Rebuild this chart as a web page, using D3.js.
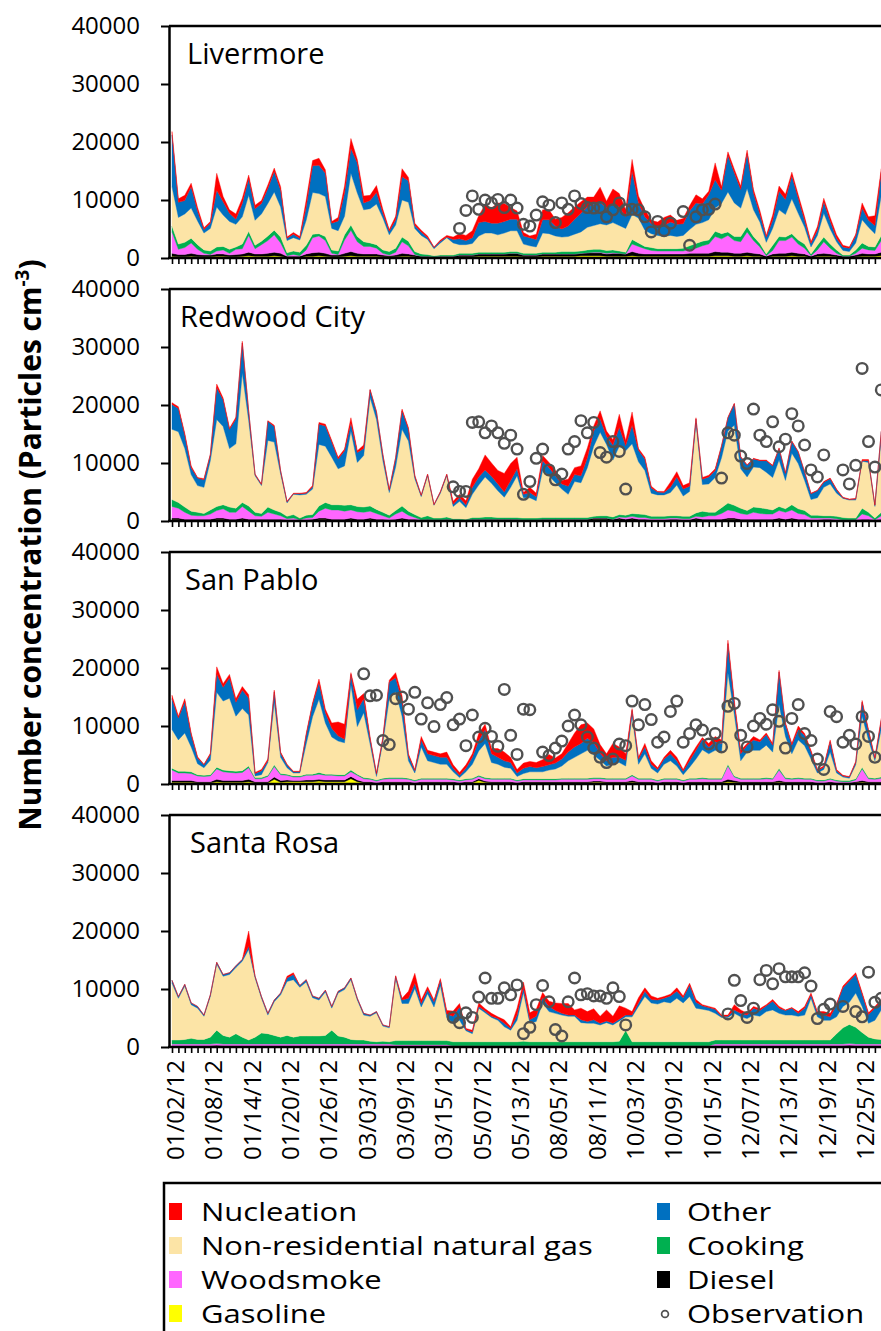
<!DOCTYPE html>
<html>
<head>
<meta charset="utf-8">
<script src="https://cdn.jsdelivr.net/npm/d3@7"></script>
<style>
  body { margin: 0; background: #fff; overflow: hidden; }
  svg { display: block; }
  text { font-family: "Open Sans", "Noto Sans", sans-serif; fill: #000; }
</style>
</head>
<body>
<div id="chart"></div>
<script>
// sampling days (category axis, gaps between campaigns)
var dates = [
  "01/02/12","01/03/12","01/04/12","01/05/12","01/06/12","01/07/12","01/08/12","01/09/12","01/10/12","01/11/12",
  "01/12/12","01/13/12","01/14/12","01/15/12","01/16/12","01/17/12","01/18/12","01/19/12","01/20/12","01/21/12",
  "01/22/12","01/23/12","01/24/12","01/25/12","01/26/12","01/27/12","01/28/12","01/29/12","01/30/12","01/31/12",
  "03/03/12","03/04/12","03/05/12","03/06/12","03/07/12","03/08/12","03/09/12","03/10/12","03/11/12","03/12/12",
  "03/13/12","03/14/12","03/15/12","03/16/12","03/17/12","03/18/12","03/19/12","03/20/12","05/07/12","05/08/12",
  "05/09/12","05/10/12","05/11/12","05/12/12","05/13/12","05/14/12","05/15/12","05/16/12","05/17/12","05/18/12",
  "08/05/12","08/06/12","08/07/12","08/08/12","08/09/12","08/10/12","08/11/12","08/12/12","08/13/12","08/14/12",
  "08/15/12","08/16/12","10/03/12","10/04/12","10/05/12","10/06/12","10/07/12","10/08/12","10/09/12","10/10/12",
  "10/11/12","10/12/12","10/13/12","10/14/12","10/15/12","10/16/12","10/17/12","10/18/12","10/19/12","10/20/12",
  "12/07/12","12/08/12","12/09/12","12/10/12","12/11/12","12/12/12","12/13/12","12/14/12","12/15/12","12/16/12",
  "12/17/12","12/18/12","12/19/12","12/20/12","12/21/12","12/22/12","12/23/12","12/24/12","12/25/12","12/26/12",
  "12/27/12","12/28/12"
];
var labelEvery = 6;
var yTicks = [0, 10000, 20000, 30000, 40000];

// ---------------- Livermore ----------------
var livNucleation = [
  600,600,900,600,600,300,300,2900,900,600,
  900,900,600,600,500,600,600,600,200,300,
  300,1200,900,1200,600,300,600,1200,1700,600,
  1200,900,1200,600,300,600,1400,600,400,300,
  300,100,200,300,400,900,900,1200,1200,2900,
  2600,3500,3100,2000,1400,600,300,900,1700,1700,
  1200,2000,2300,2100,2000,1700,1200,2600,1200,2600,
  2300,1200,2000,1200,1200,600,900,1400,1200,700,
  900,900,1400,900,600,2900,600,600,600,600,
  600,600,600,300,900,900,900,600,600,600,
  300,600,600,600,600,300,200,300,900,600,
  1700,600
];
var livOther = [
  8900,2600,2300,3700,1700,600,900,2900,2300,1400,
  900,2300,2900,2000,1800,2600,3500,2900,400,600,
  300,2300,4600,4900,4000,900,1700,4000,4300,5200,
  1200,1400,2000,900,600,900,4000,3700,500,600,
  300,200,300,100,600,1000,700,1000,2300,2000,
  1700,2000,2000,2000,2000,1400,1400,1300,2300,2400,
  1700,1400,1800,2600,3200,3500,3700,3700,2900,3200,
  3200,2000,7500,2600,2300,1700,1400,1900,2300,2100,
  2000,3200,3700,3200,4300,4900,2300,6300,5200,3200,
  6000,2900,1400,900,1400,3200,2600,4000,2600,1200,
  600,900,2000,1400,600,600,600,1200,2000,1200,
  1400,4000
];
var livNatGas = [
  6800,4600,4900,5200,4100,2900,3900,6900,5400,4800,
  3900,4700,6200,4300,4700,5600,6600,5200,2100,2300,
  2100,4300,7200,6900,6900,3700,3500,3200,8900,7500,
  5500,5900,7000,5500,2900,4000,6400,6700,4000,3200,
  2600,1200,2100,3000,2100,1500,1500,1700,2800,3300,
  3300,3000,3300,3600,3600,1600,1300,1100,3300,3200,
  2800,2500,2600,3000,3300,3900,4100,4400,4400,4700,
  4400,4100,4300,4300,2800,2400,2300,2100,2300,2100,
  2200,2800,3300,3200,3500,4000,5200,6900,5800,4900,
  6600,4600,3700,2000,2900,4600,3900,6000,4600,2900,
  1200,1700,4100,2600,1400,800,600,1200,4000,3300,
  2300,6900
];
var livCooking = [
  1000,900,900,800,800,600,600,700,600,700,
  400,800,700,600,600,800,800,1000,500,600,
  600,800,600,400,700,600,600,900,900,900,
  800,600,600,600,600,700,800,800,500,400,
  300,200,200,200,200,300,300,300,300,300,
  300,300,300,300,300,300,300,300,300,300,
  300,400,400,400,400,500,500,500,500,500,
  400,300,800,600,400,500,400,400,400,400,
  500,600,800,800,700,900,900,600,700,900,
  900,700,600,300,900,700,600,600,700,700,
  300,800,800,700,600,200,200,600,900,600,
  600,900
];
var livWoodsmoke = [
  3700,900,1200,1800,900,300,100,500,700,300,
  900,900,2900,900,1600,2200,3000,1800,100,300,
  100,700,2600,2800,2200,300,100,2300,3700,2000,
  1300,1300,1000,300,100,500,2000,1400,100,0,
  0,0,0,0,0,0,0,0,0,0,
  0,0,0,0,0,0,0,0,0,0,
  0,0,0,0,0,0,100,100,100,100,
  0,0,1300,1200,900,600,500,500,500,500,
  500,700,900,1300,1600,2600,2300,2900,2200,2000,
  3500,2200,1200,100,600,2200,2200,2600,1600,1000,
  100,700,2000,1000,300,0,0,300,900,700,
  600,2000
];
var livDiesel = [
  500,400,400,500,400,300,300,400,400,300,
  400,400,600,400,400,500,600,500,200,200,
  200,400,600,600,500,300,300,500,700,500,
  400,400,400,300,200,300,500,400,300,200,
  200,100,200,200,200,300,300,300,400,400,
  400,400,400,500,500,300,300,300,400,400,
  400,400,400,400,400,500,500,500,400,500,
  500,400,700,500,400,400,400,400,400,400,
  400,500,500,500,500,700,600,600,500,500,
  600,500,400,200,400,500,500,600,500,400,
  200,400,500,400,300,200,200,300,500,400,
  400,600
];
var livGasoline = [
  300,200,200,300,200,200,200,300,300,200,
  200,300,400,300,300,300,400,300,100,100,
  100,300,300,400,300,200,200,300,400,300,
  300,300,300,200,200,200,300,300,200,100,
  100,100,100,100,100,200,200,200,300,300,
  300,300,300,300,300,200,200,200,300,300,
  300,300,300,300,400,400,400,400,300,300,
  300,300,400,300,300,300,300,300,300,300,
  300,300,300,300,300,400,400,400,300,300,
  400,300,300,100,300,300,300,400,300,300,
  100,300,300,300,200,100,100,200,300,300,
  300,400
];
var livObservation = [
  null,null,null,null,null,null,null,null,null,null,
  null,null,null,null,null,null,null,null,null,null,
  null,null,null,null,null,null,null,null,null,null,
  null,null,null,null,null,null,null,null,null,null,
  null,null,null,null,null,5100,8200,10700,8400,10000,
  9500,10100,8700,10000,8600,5800,5500,7400,9700,9100,
  6100,9500,8400,10700,9400,8700,8600,8700,7100,8300,
  9500,8300,8400,8300,7100,4500,6300,4700,6000,null,
  8000,2200,7100,8300,8400,9300,null,null,null,null,
  null,null,null,null,null,null,null,null,null,null,
  null,null,null,null,null,null,null,null,null,null,
  null,null
];

// ---------------- Redwood City ----------------
var rwcNucleation = [
  300,300,300,300,100,200,100,600,300,200,
  300,300,100,100,100,100,200,100,100,100,
  100,100,200,300,300,300,300,300,900,300,
  600,100,100,100,200,100,300,300,200,100,
  100,100,100,100,500,600,700,1400,1400,2600,
  2300,2300,3200,2900,2000,300,900,600,900,900,
  900,600,1200,1200,1700,1700,900,1400,900,900,
  2300,900,2300,300,300,300,100,200,900,900,
  600,600,200,300,300,300,100,100,100,100,
  100,100,100,100,100,100,100,100,100,100,
  100,100,100,100,100,100,100,100,200,200,
  100,100
];
var rwcOther = [
  4300,4000,2300,1200,1300,1300,1000,5500,4600,3300,
  4300,5200,1600,200,200,3300,2700,500,200,100,
  200,200,400,3500,3500,2600,1700,2600,1400,1700,
  1200,1300,1300,1000,400,1600,3200,2000,400,200,
  200,100,200,200,400,600,500,1200,1400,1200,
  1200,1200,900,1200,1200,600,900,700,1700,1400,
  1200,900,1400,1200,1200,1700,2600,2300,1400,2600,
  3200,900,3200,2000,2000,900,500,400,900,1400,
  1200,900,700,900,1200,1200,2000,2300,3700,2000,
  2000,1400,1200,2000,2000,2000,1200,2000,2000,1400,
  1000,1200,900,900,600,100,100,200,100,300,
  200,1000
];
var rwcNatGas = [
  12100,12200,10100,6300,4600,4500,8500,15000,13500,10100,
  11100,22300,14700,6300,4800,11500,11700,6600,2300,3500,
  4000,3600,4400,10600,9700,8200,6200,6800,12700,7600,
  8900,18700,15500,8900,3900,7500,13200,12100,6200,3600,
  6900,2200,4300,7100,2100,3000,2000,4000,5600,6900,
  5800,4600,3500,5200,7200,3500,3500,3000,8100,7200,
  6000,4900,4000,6200,6000,8600,12100,14400,12300,9800,
  11800,11100,12000,9000,7600,4000,3700,3700,4000,5300,
  3500,4300,15500,4600,4900,6000,8600,12400,13800,6800,
  5800,6900,6900,6300,5600,8000,4900,8900,7800,5200,
  2700,3000,4900,5500,4000,3300,3100,3100,8100,8600,
  2000,12900
];
var rwcCooking = [
  1200,1000,900,700,600,400,700,700,700,900,
  700,700,900,600,500,900,700,600,400,600,
  300,500,500,900,1000,900,900,1000,900,900,
  900,900,700,600,500,600,900,700,500,400,
  600,300,300,400,200,200,100,300,300,400,
  400,300,300,300,300,300,300,300,300,300,
  300,300,300,300,300,300,300,400,400,400,
  400,400,500,600,500,400,400,400,400,400,
  400,400,600,1000,600,600,1000,1200,1000,900,
  700,900,1000,900,700,700,600,900,800,700,
  500,500,400,400,400,400,300,300,1000,600,
  300,600
];
var rwcWoodsmoke = [
  2000,1700,1200,700,600,600,900,1300,1600,1200,
  1200,2000,1400,600,500,1200,900,600,200,300,
  0,300,300,1200,1700,1600,1600,1400,1400,1300,
  1200,1200,1000,600,300,900,1200,700,300,0,
  0,0,0,0,0,0,0,0,0,0,
  0,0,0,0,0,0,0,0,0,0,
  0,0,0,0,0,0,0,0,0,0,
  200,300,300,300,300,200,200,200,200,200,
  200,200,300,400,600,600,1000,1400,1200,1000,
  800,1200,1000,900,900,1300,1200,1400,1000,800,
  300,300,200,200,200,0,0,0,900,600,
  0,600
];
var rwcDiesel = [
  300,300,200,200,200,200,200,300,300,200,
  200,300,200,200,200,200,200,200,100,100,
  100,100,200,300,300,200,200,200,300,200,
  200,300,200,200,100,200,300,200,200,100,
  200,100,100,200,100,100,100,200,200,200,
  200,200,200,200,200,100,100,100,200,200,
  200,200,200,200,200,200,300,300,300,200,
  300,200,300,200,200,100,100,100,200,200,
  100,100,300,200,200,200,200,300,300,200,
  200,200,200,200,200,300,200,300,200,200,
  100,100,200,200,100,100,100,100,200,200,
  100,200
];
var rwcGasoline = [
  200,200,100,100,100,100,100,200,200,100,
  100,200,100,100,100,100,100,100,100,100,
  100,100,100,200,200,100,100,100,200,100,
  100,200,100,100,100,100,200,100,100,100,
  100,100,100,100,100,100,100,100,100,100,
  100,100,100,100,100,100,100,100,100,100,
  100,100,100,100,100,100,200,200,200,100,
  200,100,200,100,100,100,100,100,100,100,
  100,100,200,100,100,100,100,200,200,100,
  100,100,100,100,100,200,100,200,100,100,
  100,100,100,100,100,100,100,100,100,100,
  100,100
];
var rwcObservation = [
  null,null,null,null,null,null,null,null,null,null,
  null,null,null,null,null,null,null,null,null,null,
  null,null,null,null,null,null,null,null,null,null,
  null,null,null,null,null,null,null,null,null,null,
  null,null,null,null,5900,5100,5100,17000,17100,15200,
  16400,15200,13400,14800,12400,4600,6800,10800,12400,8800,
  7100,8100,12400,13700,17300,15200,17000,11800,11000,13700,
  12000,5500,null,null,null,null,null,null,null,null,
  null,null,null,null,null,null,7400,15200,14800,11200,
  9900,19300,14800,13700,17100,12800,14100,18500,16400,13100,
  8800,7600,11400,null,null,8800,6400,9600,26300,13700,
  9300,22600
];

// ---------------- San Pablo ----------------
var spNucleation = [
  600,300,500,300,200,100,200,1200,600,600,
  600,600,600,200,200,300,300,200,100,100,
  100,300,300,600,600,900,2400,2600,300,1800,
  900,300,200,300,300,900,900,300,200,600,
  600,600,600,900,600,500,600,600,1200,900,
  900,1500,1500,900,600,900,900,900,1200,1800,
  900,900,1500,2400,3200,2600,2400,1500,1200,2400,
  1800,1100,300,300,600,600,300,300,600,600,
  300,600,600,300,600,900,600,600,600,600,
  300,600,300,300,300,300,300,300,600,300,
  300,200,200,300,200,100,100,200,300,300,
  200,300
];
var spOther = [
  5300,3800,5400,2100,1000,500,1000,3200,2400,3500,
  2400,3200,2900,400,700,300,1800,700,500,200,
  200,1500,2100,2900,1800,1500,900,600,1800,2900,
  2400,900,400,600,2900,2400,2600,900,400,1200,
  1200,1200,1200,1200,600,400,600,1200,1800,2400,
  1500,1200,1100,1000,600,900,900,700,900,900,
  1000,1200,1500,1800,1800,2100,2100,1200,900,1200,
  900,1000,900,900,1200,700,600,900,1200,900,
  600,1100,1500,1800,1200,1500,1500,5000,1800,1200,
  1200,1800,1500,1800,1200,5600,2100,1500,1800,1800,
  1200,400,400,1800,400,200,200,400,2400,1500,
  400,1500
];
var spNatGas = [
  6700,5400,6600,4300,1900,1300,2500,12900,11900,12500,
  9500,10700,8800,300,500,2200,10800,2800,1100,500,
  500,5200,9900,12600,8800,6400,5800,5500,14700,8200,
  11200,5900,600,6200,13600,14800,10600,3000,1200,5400,
  3000,2700,2400,2400,1200,400,1200,2400,4200,5900,
  2700,2400,1900,1700,600,900,1200,1200,1200,1500,
  1700,2100,3000,3600,4200,4800,3900,3000,2100,2400,
  2700,2100,10200,2400,4200,1700,1200,2400,3000,2100,
  900,1900,3300,4800,4200,4800,4500,15800,10600,3000,
  4500,4800,4800,5600,4500,11000,7100,4200,6500,5600,
  3300,1200,1800,4500,1200,600,400,2400,8800,6500,
  3000,8300
];
var spCooking = [
  300,300,300,300,200,200,200,300,300,300,
  300,300,300,200,200,200,300,200,200,200,
  200,200,200,300,200,200,200,200,300,200,
  200,200,200,200,200,200,200,200,200,200,
  200,200,200,200,200,200,200,200,200,200,
  200,200,200,200,200,200,200,200,200,200,
  200,200,200,200,200,200,200,200,200,200,
  200,200,200,200,200,200,200,200,200,200,
  200,200,200,200,200,200,200,300,200,200,
  200,200,200,200,200,300,200,200,200,200,
  200,200,200,200,200,200,200,200,300,200,
  200,200
];
var spWoodsmoke = [
  1800,1300,1300,1200,1000,900,1000,1800,1500,1400,
  1300,1400,2000,500,500,900,1800,1000,800,600,
  600,800,800,900,800,800,700,700,800,800,
  500,400,300,400,500,500,500,400,300,400,
  400,400,400,400,300,300,300,400,400,400,
  400,400,400,400,300,300,300,300,300,300,
  300,400,400,400,400,400,400,400,400,400,
  400,400,800,400,400,400,300,400,400,400,
  300,400,400,500,400,400,400,2300,600,400,
  400,400,400,500,400,1800,500,400,500,400,
  400,300,300,400,300,200,200,300,2000,500,
  400,600
];
var spDiesel = [
  300,300,300,300,200,200,200,400,300,300,
  300,300,400,200,200,200,400,300,300,200,
  200,300,300,300,300,300,300,300,400,300,
  200,200,100,200,200,200,200,200,100,200,
  200,200,200,200,200,100,200,200,300,200,
  200,200,200,200,100,200,200,200,200,200,
  200,200,200,200,200,200,200,200,200,200,
  200,200,300,200,200,200,100,200,200,200,
  100,200,200,200,200,200,200,400,300,200,
  200,200,200,200,200,300,200,200,200,200,
  200,100,100,200,100,100,100,200,300,200,
  200,200
];
var spGasoline = [
  300,300,300,300,200,200,200,400,300,300,
  300,300,400,200,200,200,800,300,400,400,
  400,400,400,500,400,400,400,400,900,400,
  200,200,100,200,200,200,200,200,100,200,
  200,200,200,200,200,100,200,200,600,300,
  200,200,200,200,100,200,200,200,200,200,
  200,200,200,200,200,200,300,300,200,200,
  200,200,300,200,200,200,100,200,200,200,
  100,200,200,200,200,200,200,400,300,200,
  200,200,200,200,200,300,200,200,200,200,
  200,100,100,200,100,100,100,200,300,200,
  200,200
];
var spObservation = [
  null,null,null,null,null,null,null,null,null,null,
  null,null,null,null,null,null,null,null,null,null,
  null,null,null,null,null,null,null,null,null,null,
  19000,15200,15300,7500,6800,14700,15000,12900,15800,11200,
  14000,9900,13700,14900,10200,11200,6600,11900,8100,9600,
  8200,6500,16300,8400,5100,12900,12800,null,5500,4900,
  6200,7400,10000,11900,10200,8100,6200,4600,3700,4300,
  6900,6600,14300,10200,13700,11100,7200,8100,12500,14300,
  7200,8700,10200,9300,6900,8700,6400,13400,13900,8400,
  6400,10000,11300,10300,12800,10800,6200,11300,13700,8700,
  7500,4300,2500,12500,11600,7200,8400,6900,11600,8200,
  4600,null
];

// ---------------- Santa Rosa ----------------
var srNucleation = [
  0,0,0,0,0,0,0,0,0,0,
  0,0,2600,0,0,0,0,0,300,300,
  0,0,0,0,0,0,0,0,0,0,
  0,0,0,0,0,100,300,1200,1700,600,
  500,300,300,600,900,600,200,300,600,400,
  500,300,600,300,1200,900,1200,1200,900,900,
  1300,1700,2000,900,2000,1700,1900,1200,1900,1200,
  2300,1200,600,900,600,600,300,300,300,600,
  300,300,500,200,200,200,200,200,900,600,
  300,300,300,200,300,300,100,100,300,300,
  300,300,600,600,200,300,300,300,300,300,
  300,200
];
var srOther = [
  500,300,300,300,300,200,300,300,300,300,
  300,300,600,300,300,300,300,300,600,900,
  300,400,300,300,300,300,300,300,300,300,
  300,200,200,200,200,400,600,900,900,600,
  700,900,900,600,1200,2300,200,300,300,300,
  200,300,600,300,900,900,600,900,900,900,
  500,300,200,200,500,300,600,300,300,300,
  300,300,300,600,900,600,700,600,1200,1200,
  900,2000,1000,600,500,700,200,200,600,600,
  600,1200,1000,1000,1500,900,800,1200,500,1200,
  600,600,900,600,2100,3200,3700,3200,2100,1500,
  2100,1600
];
var srNatGas = [
  9800,7200,9200,5800,5400,4000,7000,11400,10200,10800,
  11400,13100,15600,10200,6000,3200,5800,7300,9300,9900,
  8400,9300,6600,6200,7500,3800,7400,8200,10300,6900,
  4300,4300,5000,2600,2400,10700,6400,6400,9000,5800,
  8100,5800,9500,4000,3200,3700,1900,1400,5800,5000,
  4200,3700,2600,2000,3700,8400,3200,3500,6700,5200,
  4900,4600,4400,4400,3300,3200,3200,2900,3300,2900,
  3500,2300,4300,6100,7800,6700,6500,6900,6700,7500,
  6700,7800,5800,5600,5400,4600,3900,3900,4600,4000,
  3700,4300,4100,4900,5200,4600,4300,4300,4100,4300,
  7200,4000,3400,3400,2900,3700,3800,5900,4500,2400,
  3200,5100
];
var srCooking = [
  700,700,800,1000,800,800,1200,2300,1500,1200,
  1800,1200,700,1200,1900,1800,1500,1200,1500,1200,
  1400,1400,1400,1400,1500,2400,1400,1200,800,700,
  700,500,400,500,400,700,700,700,700,700,
  700,700,700,700,700,700,700,700,700,700,
  700,700,700,700,700,800,700,700,700,700,
  700,700,700,700,700,700,700,700,700,700,
  800,2700,700,700,700,700,700,700,700,700,
  700,700,700,700,700,700,700,700,700,700,
  700,700,700,700,700,700,700,700,700,700,
  700,700,700,700,1800,2800,3300,2900,2000,1200,
  900,800
];
var srWoodsmoke = [
  300,300,300,300,300,300,300,300,300,300,
  300,300,300,300,300,300,300,300,300,300,
  300,300,300,300,300,300,300,300,300,300,
  300,300,300,300,300,200,200,200,200,200,
  200,200,200,200,0,0,0,0,0,0,
  0,0,0,0,0,0,0,0,0,0,
  0,0,0,0,0,0,0,0,0,0,
  0,0,0,0,0,0,0,0,0,0,
  0,0,0,0,0,300,300,300,300,300,
  300,300,300,300,300,300,300,300,300,300,
  300,300,300,300,300,300,300,300,300,300,
  300,300
];
var srDiesel = [
  100,100,100,100,100,100,100,200,100,100,
  100,100,100,100,100,100,100,100,100,100,
  100,100,100,100,100,100,100,100,100,100,
  100,100,100,100,100,100,100,100,100,100,
  100,100,100,100,100,100,100,100,100,100,
  100,100,100,100,100,100,100,100,100,100,
  100,100,100,100,100,100,100,100,100,100,
  100,100,100,100,100,100,100,100,100,100,
  100,100,100,100,100,100,100,100,100,100,
  100,100,100,100,100,100,100,100,100,100,
  100,100,100,100,100,100,200,100,100,100,
  100,100
];
var srGasoline = [
  100,100,100,100,100,100,100,100,100,100,
  100,100,100,100,100,100,100,100,100,100,
  100,100,100,100,100,100,100,100,100,100,
  100,100,100,100,100,100,100,100,100,100,
  100,100,100,100,100,100,100,100,100,100,
  100,100,100,100,100,100,100,100,100,100,
  100,100,100,100,100,100,100,100,100,100,
  100,100,100,100,100,100,100,100,100,100,
  100,100,100,100,100,100,100,100,100,100,
  100,100,100,100,100,100,100,100,100,100,
  100,100,100,100,100,100,100,100,100,100,
  100,100
];
var srObservation = [
  null,null,null,null,null,null,null,null,null,null,
  null,null,null,null,null,null,null,null,null,null,
  null,null,null,null,null,null,null,null,null,null,
  null,null,null,null,null,null,null,null,null,null,
  null,null,null,null,5100,4200,5900,5100,8600,11900,
  8400,8400,10200,9000,10700,2300,3400,7300,10600,7800,
  3000,1900,7800,11900,9000,9200,8800,8800,8400,10200,
  8700,3800,null,null,null,null,null,null,null,null,
  null,null,null,null,null,null,null,5700,11500,8000,
  5100,6700,11600,13200,10900,13500,12100,12100,12100,12800,
  10500,4900,6500,7400,null,7000,null,6100,5200,12900,
  7700,8400
];

var svgWidth = 881;
var svgHeight = 1331;
var axisX = 169;
var firstX = 172;
var step = 6.39;
var panelHeight = 232;

var sources = ["gasoline", "diesel", "woodsmoke", "cooking", "natgas", "other", "nucleation"];
var colors = {
  nucleation: "#ff0000",
  other: "#0070c0",
  natgas: "#fce4a6",
  cooking: "#00b050",
  woodsmoke: "#ff66ff",
  diesel: "#000000",
  gasoline: "#ffff00"
};

var panels = [
  { site: "Livermore", top: 26, labelX: 187,
    values: { gasoline: livGasoline, diesel: livDiesel, woodsmoke: livWoodsmoke, cooking: livCooking,
              natgas: livNatGas, other: livOther, nucleation: livNucleation },
    obs: livObservation },
  { site: "Redwood City", top: 289, labelX: 180,
    values: { gasoline: rwcGasoline, diesel: rwcDiesel, woodsmoke: rwcWoodsmoke, cooking: rwcCooking,
              natgas: rwcNatGas, other: rwcOther, nucleation: rwcNucleation },
    obs: rwcObservation },
  { site: "San Pablo", top: 552, labelX: 185,
    values: { gasoline: spGasoline, diesel: spDiesel, woodsmoke: spWoodsmoke, cooking: spCooking,
              natgas: spNatGas, other: spOther, nucleation: spNucleation },
    obs: spObservation },
  { site: "Santa Rosa", top: 815, labelX: 190,
    values: { gasoline: srGasoline, diesel: srDiesel, woodsmoke: srWoodsmoke, cooking: srCooking,
              natgas: srNatGas, other: srOther, nucleation: srNucleation },
    obs: srObservation }
];

var svg = d3.select("#chart")
  .append("svg")
  .attr("width", svgWidth)
  .attr("height", svgHeight);

var xScale = d3.scalePoint()
  .domain(dates)
  .range([firstX, firstX + step * (dates.length - 1)]);

var stack = d3.stack().keys(sources);

panels.forEach(function(p) {
  var base = p.top + panelHeight;
  var yScale = d3.scaleLinear().domain([0, 40000]).range([base, p.top]);

  var rows = dates.map(function(d, i) {
    var row = { date: d };
    sources.forEach(function(k) { row[k] = p.values[k][i]; });
    return row;
  });

  var area = d3.area()
    .x(function(d) { return xScale(d.data.date); })
    .y0(function(d) { return yScale(d[0]); })
    .y1(function(d) { return yScale(d[1]); });

  var g = svg.append("g");

  g.selectAll("path.layer")
    .data(stack(rows))
    .enter()
    .append("path")
    .attr("class", "layer")
    .attr("d", area)
    .attr("fill", function(d) { return colors[d.key]; })
    .attr("stroke", function(d) { return colors[d.key]; })
    .attr("stroke-width", 0.4);

  // observations
  g.selectAll("circle.obs")
    .data(dates.map(function(d, i) { return { date: d, v: p.obs[i] }; }).filter(function(d) { return d.v != null; }))
    .enter()
    .append("circle")
    .attr("class", "obs")
    .attr("cx", function(d) { return xScale(d.date); })
    .attr("cy", function(d) { return yScale(d.v); })
    .attr("r", 5.3)
    .attr("fill", "none")
    .attr("stroke", "#505050")
    .attr("stroke-width", 2.4);

  // frame: top border and left axis
  g.append("line")
    .attr("x1", axisX).attr("x2", svgWidth)
    .attr("y1", p.top).attr("y2", p.top)
    .attr("stroke", "#000").attr("stroke-width", 2.5);

  var leftAxis = d3.axisLeft(yScale)
    .tickValues(yTicks)
    .tickSize(8)
    .tickSizeOuter(0)
    .tickPadding(21)
    .tickFormat(d3.format("d"));

  var ya = g.append("g")
    .attr("transform", "translate(" + axisX + ",0)")
    .call(leftAxis);
  ya.select(".domain").attr("stroke-width", 2.5);
  ya.selectAll(".tick line").attr("stroke-width", 2);
  ya.selectAll(".tick text")
    .style("font-size", "24px")
    .style("font-family", "'Open Sans', sans-serif")
    .attr("fill", "#000");

  // bottom axis with a tick at every day
  var bottomAxis = d3.axisBottom(xScale)
    .tickSize(6)
    .tickSizeOuter(0)
    .tickFormat("");
  var xa = g.append("g")
    .attr("transform", "translate(0," + base + ")")
    .call(bottomAxis);
  xa.select(".domain").remove();
  xa.selectAll(".tick line").attr("stroke-width", 1.6);
  g.append("line")
    .attr("x1", axisX - 1).attr("x2", svgWidth)
    .attr("y1", base).attr("y2", base)
    .attr("stroke", "#000").attr("stroke-width", 2.5);

  g.append("text")
    .attr("x", p.labelX)
    .attr("y", p.top + 38)
    .style("font-size", "29px")
    .text(p.site);
});

// date labels under the last panel
var lastBase = panels[3].top + panelHeight;
svg.append("g")
  .selectAll("text")
  .data(dates.filter(function(d, i) { return i % labelEvery === 0; }))
  .enter()
  .append("text")
  .attr("transform", function(d) { return "translate(" + (xScale(d) + 12) + "," + (lastBase + 13) + ") rotate(-90)"; })
  .attr("text-anchor", "end")
  .style("font-size", "24px")
  .text(function(d) { return d; });

// y title
var yTitle = svg.append("text")
  .attr("transform", "translate(41,545) rotate(-90)")
  .attr("text-anchor", "middle")
  .style("font-size", "30px")
  .style("font-weight", "bold");
yTitle.append("tspan").text("Number concentration (Particles cm");
yTitle.append("tspan").attr("dy", -12).style("font-size", "19px").text("-3");
yTitle.append("tspan").attr("dy", 12).text(")");

// legend
var legendItems = [
  { label: "Nucleation", key: "nucleation", col: 0, row: 0 },
  { label: "Non-residential natural gas", key: "natgas", col: 0, row: 1 },
  { label: "Woodsmoke", key: "woodsmoke", col: 0, row: 2 },
  { label: "Gasoline", key: "gasoline", col: 0, row: 3 },
  { label: "Other", key: "other", col: 1, row: 0 },
  { label: "Cooking", key: "cooking", col: 1, row: 1 },
  { label: "Diesel", key: "diesel", col: 1, row: 2 },
  { label: "Observation", key: "obs", col: 1, row: 3 }
];
var legend = svg.append("g");
legend.append("rect")
  .attr("x", 164).attr("y", 1183)
  .attr("width", 800).attr("height", 300)
  .attr("fill", "#fff")
  .attr("stroke", "#000").attr("stroke-width", 2.5);

var colX = [169, 657];
var textX = [201, 687];
var rowY = [1212, 1246, 1280, 1314];

legendItems.forEach(function(it) {
  var cy = rowY[it.row];
  if (it.key === "obs") {
    legend.append("circle")
      .attr("cx", colX[it.col] + 8).attr("cy", cy)
      .attr("r", 3.4)
      .attr("fill", "none").attr("stroke", "#505050").attr("stroke-width", 1.7);
  } else {
    legend.append("rect")
      .attr("x", colX[it.col]).attr("y", cy - 9)
      .attr("width", 13).attr("height", 17)
      .attr("fill", colors[it.key]);
  }
  // the original lettering is wide: stretch a 25px face sideways
  legend.append("text")
    .attr("transform", "translate(" + textX[it.col] + "," + (cy + 9) + ") scale(1.24,1)")
    .style("font-size", "25px")
    .text(it.label);
});
</script>
</body>
</html>
